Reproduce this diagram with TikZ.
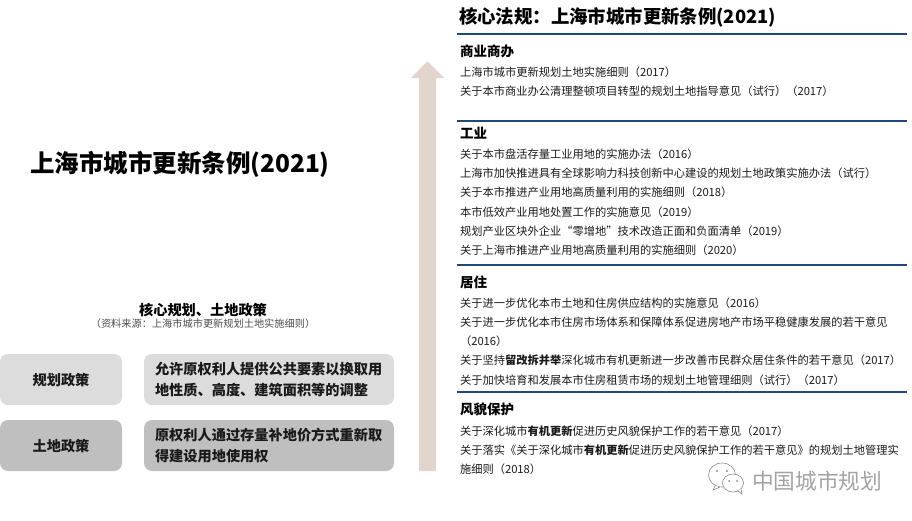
\documentclass[tikz,border=0pt]{standalone}
\usepackage{fontspec}
\setmainfont{Noto Sans CJK SC}
\definecolor{rulecol}{HTML}{1F497D}
\definecolor{arrowcol}{HTML}{E2D5CD}
\definecolor{boxlight}{HTML}{DCDCDC}
\definecolor{boxdark}{HTML}{BFBFBF}
\definecolor{inkcol}{HTML}{1A1A1A}
\definecolor{markcol}{HTML}{8C8C8C}
\tikzset{
  x=1pt,y=-1pt,
  every node/.style={inner sep=0pt,outer sep=0pt,text=inkcol},
  lawline/.style={anchor=west,font=\fontsize{11.25}{13}\selectfont},
  lawhead/.style={anchor=west,font=\fontsize{13.5}{15}\selectfont\bfseries,text=black},
  rulerline/.style={draw=rulecol,line width=2pt},
  polbox/.style={rounded corners=8pt,minimum height=51pt,anchor=north west,font=\fontsize{14.2}{18.5}\selectfont\bfseries},
  pollabel/.style={polbox,align=center,text depth=-1pt,minimum width=122pt},
  poltext/.style={polbox,align=left,text width=228pt,minimum width=250pt},
  markline/.style={draw=markcol,line width=0.6pt,fill=white},
}
\begin{document}
\begin{tikzpicture}
\useasboundingbox (0,0) rectangle (912,520);
% left title
\node[anchor=west,font=\fontsize{24.5}{28}\selectfont\bfseries,text=black] (maintitle) at (30,164) {上海市城市更新条例(2021)};
\node[anchor=center,font=\fontsize{14.2}{17}\selectfont\bfseries,text=black] (coretitle) at (203,310) {核心规划、土地政策};
\node[anchor=center,font=\fontsize{10.2}{12}\selectfont,text=black!70] (source) at (203,324) {（资料来源：上海市城市更新规划土地实施细则）};
% policy boxes
\node[pollabel,fill=boxlight] (planlabel) at (0,354) {规划政策};
\node[poltext,fill=boxlight] (plantext) at (144,354) {\vspace*{3pt}允许原权利人提供公共要素以换取用\\地性质、高度、建筑面积等的调整};
\node[pollabel,fill=boxdark] (landlabel) at (0,420) {土地政策};
\node[poltext,fill=boxdark] (landtext) at (144,420) {\vspace*{3pt}原权利人通过存量补地价方式重新取\\得建设用地使用权};
% big arrow
\fill[arrowcol] (419,471) -- (419,78) -- (411,78) -- (427.5,61) -- (444,78) -- (436,78) -- (436,471) -- cycle;
% right title and rules
\node[anchor=west,font=\fontsize{18.4}{22}\selectfont\bfseries,text=black] (lawtitle) at (459,17) {核心法规：上海市城市更新条例(2021)};
\draw[rulerline] (457,33.7) -- (907,33.7);
\draw[rulerline] (457,120.7) -- (907,120.7);
\draw[rulerline] (457,264.8) -- (907,264.8);
\draw[rulerline] (457,391.7) -- (907,391.7);
% commerce
\node[lawhead] (h1) at (460,51) {商业商办};
\node[lawline] (a1) at (460,72) {上海市城市更新规划土地实施细则（2017）};
\node[lawline] (a2) at (460,91) {关于本市商业办公清理整顿项目转型的规划土地指导意见（试行）（2017）};
% industry
\node[lawhead] (h2) at (460,133) {工业};
\node[lawline] (b1) at (460,154) {关于本市盘活存量工业用地的实施办法（2016）};
\node[lawline] (b2) at (460,173.3) {上海市加快推进具有全球影响力科技创新中心建设的规划土地政策实施办法（试行）};
\node[lawline] (b3) at (460,192.6) {关于本市推进产业用地高质量利用的实施细则（2018）};
\node[lawline] (b4) at (460,211.8) {本市低效产业用地处置工作的实施意见（2019）};
\node[lawline] (b5) at (460,231) {规划产业区块外企业“零增地”技术改造正面和负面清单（2019）};
\node[lawline] (b6) at (460,250.3) {关于上海市推进产业用地高质量利用的实施细则（2020）};
% housing
\node[lawhead] (h3) at (460,282) {居住};
\node[lawline] (c1) at (460,303) {关于进一步优化本市土地和住房供应结构的实施意见（2016）};
\node[lawline] (c2) at (460,322) {关于进一步优化本市住房市场体系和保障体系促进房地产市场平稳健康发展的若干意见};
\node[lawline] (c2b) at (460,341.5) {（2016）};
\node[lawline] (c3) at (460,360.5) {关于坚持\textbf{留改拆并举}深化城市有机更新进一步改善市民群众居住条件的若干意见（2017）};
\node[lawline] (c4) at (460,379.8) {关于加快培育和发展本市住房租赁市场的规划土地管理细则（试行）（2017）};
% heritage
\node[lawhead] (h4) at (460,409) {风貌保护};
\node[lawline] (d1) at (460,431) {关于深化城市\textbf{有机更新}促进历史风貌保护工作的若干意见（2017）};
\node[lawline] (d2) at (460,450) {关于落实《关于深化城市\textbf{有机更新}促进历史风貌保护工作的若干意见》的规划土地管理实};
\node[lawline] (d3) at (460,469) {施细则（2018）};
% watermark
\draw[markline] (722,475) ellipse (13.5 and 12);
\draw[markline] (715,486) -- (713,490) -- (720,487);
\draw[markline] (733,483) ellipse (10.5 and 9);
\draw[markline] (738,491) -- (742,494) -- (741,489);
\fill[markcol] (717,471) circle (1.2) (727,471) circle (1.2) (729,481) circle (1) (737,481) circle (1);
\node[anchor=west,font=\fontsize{21.7}{24}\selectfont,text=markcol!80] (mark) at (752,481) {中国城市规划};
\end{tikzpicture}
\end{document}
